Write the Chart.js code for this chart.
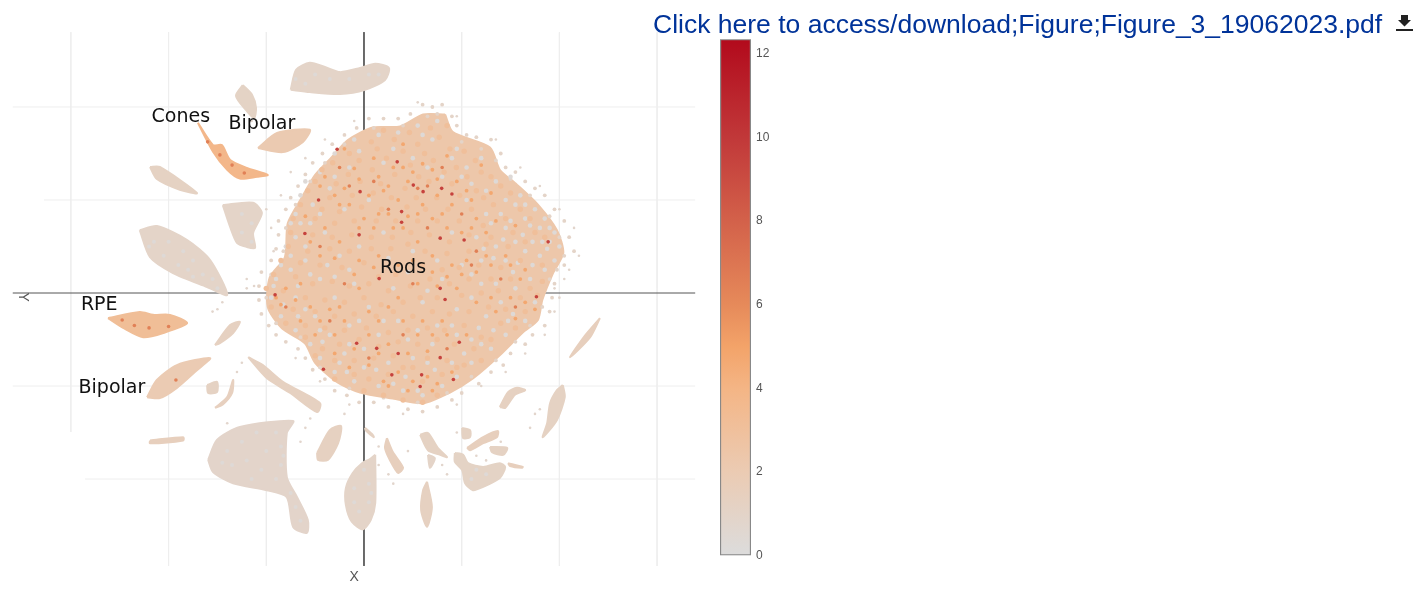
<!DOCTYPE html>
<html>
<head>
<meta charset="utf-8">
<title>Figure 3</title>
<script src="https://cdn.jsdelivr.net/npm/chart.js@4"></script>
<style>
  html, body { margin: 0; padding: 0; background: #fff; }
  #page { position: relative; width: 1421px; height: 590px; overflow: hidden; }
  #umap { position: absolute; left: 0; top: 0; }
  #bar { position: absolute; left: 712px; top: 27px; }
  #link { position: absolute; left: 653px; top: 9px; font: 26.500px "Liberation Sans", Arial, sans-serif; color: #003399; white-space: nowrap; }
  #icon { position: absolute; left: 1396px; top: 15px; }
</style>
</head>
<body>
<div id="page">
  <canvas id="umap" width="712" height="590"></canvas>
  <canvas id="bar" width="70" height="543"></canvas>
  <div id="link">Click here to access/download;Figure;Figure_3_19062023.pdf</div>
  <svg id="icon" width="17" height="17" viewBox="0 0 17 17"><path d="M5 0h7v5h3l-6.500 6.500L2 5h3zM0 14h17v2H0z" fill="#222"/></svg>
</div>
<script>
// colour scale
var scaleValues = [0, 2, 4, 5, 6, 8, 10, 12.35];
var scaleColors = ['#dcdcdc', '#ebcbb3', '#f4b585', '#f3a369', '#e68a5a', '#d3614a', '#c13839', '#b20a1c'];
var barTicks = [0, 2, 4, 6, 8, 10, 12];

// cell labels
var labelTexts = ['Cones', 'Bipolar', 'Rods', 'RPE', 'Bipolar'];
var labelX = [-37.5, -20.9, 8, -54.2, -51.6];
var labelY = [37.9, 36.4, 5.4, -2.6, -20.4];

// faint grid lines of the 3D scene, [fixed value, from, to]
var gridVertical = [[-60, 56.1, -29.9], [-40, 56.1, -58.7], [-20, 56.1, -58.7], [20, 56.1, -58.7], [40, 56.1, -58.7], [60, 56.1, -58.7]];
var gridHorizontal = [[40, -71.9, 67.8], [20, -65.5, 67.8], [-20, -71.9, 67.8], [-40, -57.1, 67.8]];

// cluster outlines
var rods = [[16.6,38.4],[18.2,34.6],[25.8,31.3],[27.8,26.5],[31.3,23.3],[35.6,19],[39.5,13.5],[40.8,8.6],[38.7,4.3],[36.5,-1.5],[35.6,-5.8],[32.5,-8.5],[27.8,-13.4],[22.3,-18.4],[17.6,-21.4],[12.1,-23.7],[5.9,-22.7],[-0.8,-21.4],[-5.5,-19.2],[-10,-15],[-12.1,-10.8],[-16.8,-7.6],[-19.7,-3],[-19.3,3.3],[-16.2,7.7],[-15.6,15],[-12.7,20.6],[-10,25.4],[-6.6,29.2],[-3.3,32.9],[1.8,35.6],[7.4,35.8],[12.1,38.4]];
var topArc = [[-15,43.7],[-13.9,48],[-11.1,49.5],[-8,48.6],[-4.9,47.5],[-0.8,48.4],[2.3,49.3],[5.1,48.4],[4.3,45.8],[0.2,43.7],[-4.9,42.8],[-11.1,43.2]];
var topSmall = [[-24.8,44.7],[-22.9,42.6],[-22.1,39.8],[-22.5,37.6],[-24.2,39.4],[-26.2,42.4]];
var bipolarUpper = [[-21.7,31.2],[-17.8,34.4],[-11.1,35.1],[-12.5,32.5],[-16.6,30.3]];
var cones = [[-34,36.6],[-30.9,31.8],[-29.1,31.8],[-27.4,28.6],[-24,26.9],[-19.7,25.4],[-21.9,25],[-25.4,24.6],[-28,26.5],[-30.9,30.4]];
var streakLeft = [[-43.8,27.1],[-41.8,27.1],[-34.2,21.5],[-37.7,22.2],[-42.4,24.5]];
var patch = [[-28.9,18.9],[-22.7,19.4],[-20.9,17.2],[-22.7,12.9],[-22.3,9.7],[-24,9.9],[-26,10.8],[-27.4,14.2]];
var leafLeft = [[-45.9,13.5],[-42.4,14.4],[-36.2,11.4],[-31.5,7.1],[-28,-0.4],[-32.1,1.3],[-39.1,4.3],[-43.8,7.7]];
var rpe = [[-52.4,-5.4],[-45.9,-4.1],[-43.2,-4.7],[-39.7,-4.7],[-36.2,-6.5],[-41.1,-8.6],[-45.2,-9.5],[-49.3,-7.5]];
var bipolarLower = [[-44.4,-22.4],[-42.4,-18.7],[-38.3,-15.5],[-31.5,-14],[-34.2,-16.6],[-38.3,-20.4],[-41.8,-22.6]];
var smallMid = [[-30.5,-11.2],[-27.4,-6.9],[-25.4,-6.2],[-26.8,-8.6],[-29.5,-10.8]];
var crescent = [[-30.5,-24.7],[-28,-22.4],[-26.8,-18.7],[-27,-21.5],[-28.9,-24]];
var blobSmall = [[-32.1,-19.8],[-30.1,-19.1],[-30.1,-21.3],[-31.9,-21.5]];
var diagonal = [[-23.7,-13.8],[-20.7,-15.5],[-16.6,-19.1],[-9,-23.7],[-9.6,-25.6],[-15.1,-21.5],[-19.9,-18.3]];
var bigLower = [[-31.9,-35.9],[-30.1,-31.6],[-25.4,-28.8],[-14.5,-27.5],[-15.8,-30.1],[-15.8,-39.6],[-13.7,-43.9],[-11.5,-48.8],[-11.7,-51.6],[-14.5,-50.3],[-15.8,-43.9],[-19.9,-42.4],[-26.8,-40.9],[-30.9,-38.5]];
var thinStreak = [[-43.8,-31.7],[-37,-31],[-37,-31.7],[-43.8,-32.3]];
var blobBelow = [[-9.6,-34.4],[-7,-29.5],[-4.7,-28.6],[-5.3,-32.3],[-7.4,-35.9],[-9.4,-35.9]];
var leafCentre = [[2.3,-34.8],[2.3,-45.2],[1.4,-48.8],[-0.2,-50.8],[-2.5,-49.2],[-3.7,-45.6],[-3.7,-41.9],[-2.3,-38.7],[-0.4,-36.6],[1.2,-35.7]];
var smallRight = [[4.7,-31.2],[5.9,-34.2],[8,-37.6],[7,-38.7],[5.3,-35.9],[4.3,-33.3]];
var tick = [[0.2,-29],[1.8,-30.5],[2,-31],[0.4,-29.6]];
var leafBottom = [[12.9,-40.6],[13.9,-46],[12.9,-50.3],[11.7,-46.7],[12.1,-42.4]];
var wedge = [[11.5,-30.5],[13.1,-30.1],[15.1,-33.3],[17,-35.3],[15.6,-34.8],[13.1,-33.8]];
var wedgeLow = [[13.1,-34.8],[14.5,-35.5],[13.5,-37.6]];
var rightBody = [[18.6,-34.4],[20.3,-34.8],[21.3,-36.6],[24.4,-37.4],[27.8,-36.6],[28.9,-37.4],[27.8,-39.8],[24.4,-41.7],[22.3,-42.4],[20.7,-40.9],[20.1,-38.1],[18.6,-36.3]];
var rightArc = [[21.1,-33.3],[24.4,-31],[27.4,-29.7],[27.2,-31],[24.4,-32.3],[21.7,-33.8]];
var rightSmall = [[20.1,-29],[21.7,-29.5],[21.7,-31],[20.3,-31.2]];
var rightMid = [[25.8,-33.1],[29.3,-33.3],[28.5,-34.8],[26.2,-34.2]];
var rightTail = [[29.5,-36.6],[32.5,-37.4],[32.3,-37.6],[29.9,-37.2]];
var upperRight = [[27.8,-24.5],[29.5,-21.3],[31.3,-20.4],[33,-20.9],[30.9,-21.9],[28.9,-24.7]];
var leafRight = [[40.7,-19.8],[41.1,-22.4],[39.5,-27.3],[36.6,-31],[37.5,-28],[38.1,-23.7],[39.5,-20.9]];
var sliver = [[48.3,-5.4],[46.3,-9.5],[42.2,-13.8],[45.2,-9.2]];

// mean level of each cluster, same order as clusterShapes below
var clusterShapes = [rods, topArc, topSmall, bipolarUpper, cones, streakLeft, patch, leafLeft, rpe, bipolarLower, smallMid, crescent, blobSmall, diagonal, bigLower, thinStreak, blobBelow, leafCentre, smallRight, tick, leafBottom, wedge, wedgeLow, rightBody, rightArc, rightSmall, rightMid, rightTail, upperRight, leafRight, sliver];
var clusterLevels = [2.4, 1, 1.1, 2.1, 3.8, 1.2, 1, 1, 3.2, 2, 1.3, 1.4, 1.2, 1.3, 0.9, 1.5, 1.3, 1, 1.5, 1.2, 1.3, 1.2, 1, 1.1, 1.5, 1.2, 1.2, 1.5, 1.3, 1.2, 1.5];

// single cells
var cellsGrey = [[3,34],[11,36],[15,37],[19,31],[24,29],[-6,30],[-9,26],[-13,21],[-15,15],[-14,17],[-16,10],[-12,24],[-3,27],[6,31],[14,33],[21,27],[27,24],[32,21],[35,18],[37,16],[39,13],[40,10],[38,11],[36,14],[33,16],[31,19],[29,14],[28,17],[27,10],[29,7],[33,9],[36,8],[39,7],[37,5],[34,3],[31,1],[35,-2],[33,-6],[29,-9],[26,-12],[22,-15],[19,-18],[16,-20],[12,-22],[8,-21],[3,-20],[-2,-19],[-6,-17],[-9,-14],[-11,-11],[-14,-8],[-17,-5],[-19,-1],[-18,3],[-15,5],[-12,7],[-9,3],[-6,-1],[-10,-5],[-7,-9],[-3,-7],[0,-12],[-4,-13],[3,-9],[7,-6],[11,-8],[5,-15],[10,-14],[14,-11],[18,-7],[22,-10],[25,-5],[28,-2],[22,-1],[16,3],[12,-2],[6,1],[1,-3],[-2,2],[-5,8],[-1,10],[4,13],[-8,13],[-11,15],[-4,18],[1,20],[10,9],[15,7],[20,6],[24,2],[18,13],[23,12],[25,17],[21,20],[16,25],[10,29],[26.5,7.5],[24.5,9.5],[30.5,4.5],[32.5,12.5],[34.5,11],[37.5,9.5],[30.5,-4.5],[26.5,-8],[20.5,-13],[14.5,-16.5],[8.5,-18],[2.5,-16.5],[-3.5,-17],[-8.5,-10.5],[-13.5,-5],[-16.5,-2.5],[-13.5,1.5],[-7.5,6],[-3,5],[5,7.5],[9,4.5],[13,0.5],[19,-3.5],[23.5,-7.5],[-1,30.5],[4,28],[13,27],[18,29],[22,23.5],[-7,22.5],[-10.5,19],[-14,12],[-12,10],
  [30,15.5],[31,11],[34,14.5],[36.5,11],[28.5,11.5],[26,15],[24,7],[22,4],[34.5,6],[31.5,6.5],[27,2],[29.5,-6],[24,-11],[18,-15],[11,-21],[6,-19.5],[0,-16],[-5,-15],[-9,-8],[-14,-1],[-11,4],[-6,3.5],[-1,-6],[4,-6],[9,-10],[15,-7],[19,-9],[13,-15],[-3,-11],[-12,-3.5],[-18.5,1.5],[-17,6],[-15,8],[-13,15],[-9,17],[-6,25],[-2,33],[7,34.5],[12,34],[20,25],[25,22],[30,25],[33,19],[29,20],[38,14]];
var cellsPeach = [[4,35],[9.3,34.5],[13.6,35.5],[17,36],[1.5,32.5],[6.2,33],[11,32],[15.4,33.5],[20.5,30.5],[-3,30],[2.7,31],[8,30.5],[12.4,30],[17.6,31],[22.8,28.5],[-6.4,28],[-1,28.5],[4.6,29],[9.5,27.5],[14.2,28.5],[18.9,27],[24,26],[-8.6,26.5],[-3.2,25.5],[1.7,26.5],[6.3,25.5],[11.2,25],[16.4,26],[21.1,25],[26,25],[-10,24],[-5.7,23.5],[-0.8,24],[3.4,23.5],[8.4,22.5],[13.3,24],[18,23.5],[23,22],[28,23],[-11.5,22],[-7,20.5],[-2.4,21],[1.9,21.5],[5.6,20.5],[10.7,20.5],[14.9,20.5],[19.6,21],[24.5,20.5],[30,21.5],[-13,19],[-8.6,18],[-5,17.5],[-0.5,18.5],[3.6,18],[8.8,18.5],[12.6,18],[17.2,18],[22,18],[26.5,19],[32,18],[-14.5,16],[-10,16],[-6,15],[-2,15.5],[2.5,15.5],[6.5,15.5],[11,15.5],[15,15.5],[19.5,15.5],[24.4,14.5],[29,16],[34,16],[-15,13],[-10.5,12.5],[-6.5,12],[-2.5,12.5],[1.5,12],[5.8,12],[9.6,13],[13.4,12.5],[17.5,11],[21.5,12.5],[26,12],[30.5,13],[35,13],[-15.5,10],[-11.5,9],[-7,9.5],[-3,9],[1.5,9.5],[5.5,9.5],[9,10.5],[12.5,9],[17,8.5],[21.5,9],[25,10.5],[29.5,10],[33,11],[37,12],[-17,7],[-13,6.5],[-9,6],[-4.5,5.5],[0,6.5],[3,3.5],[6.5,4],[12,6],[16,5],[19.5,5.5],[23.5,6],[28,5.5],[32,7],[36.5,6],[-18.5,4],[-14,3.5],[-10.5,2],[-6.5,2.5],[-3,1.5],[1,2],[5,0.5],[9.5,1.5],[13.5,3],[17.5,2],[21.5,3],[26,3],[30,3],[34,1],[36.5,2.5],[-20,1],[-16.5,0.5],[-12,-1],[-8,-1.5],[-4,-2],[0,-1],[3.5,-2.5],[8,-2],[11.5,-1],[15,-1],[20,-0.5],[24,0],[27.5,0.5],[32,-1],[35.5,-0.5],[-19,-3],[-14.5,-3.5],[-10,-4],[-6,-5],[-2,-4.5],[2.5,-5],[6,-4],[10,-5],[14,-4],[17.5,-4.5],[21.5,-4],[25.5,-3],[29,-3.5],[33,-4],[-16,-6.5],[-12,-7],[-8,-7.5],[-4,-8],[0.5,-7.5],[5,-8.5],[9,-8],[13,-7.5],[16.5,-8],[20.5,-7],[24,-9.5],[28,-6.5],[31,-7.5],[-12,-9.5],[-8.5,-12],[-5,-11],[-1,-10],[3,-11.5],[7,-10.5],[11,-11],[15,-10],[18.5,-11],[22.5,-12],[26,-10],[-10,-13.5],[-6,-14.5],[-2,-14.5],[2,-14],[6,-13.5],[10,-16],[13,-14],[17,-14.5],[20.5,-15.5],[24,-14.5],[-6,-18.5],[-2,-17.5],[1,-18.5],[5,-17.5],[8,-16],[12,-19],[16,-17.5],[19,-16],[0,-21],[4,-22],[8,-23],[12,-23.5],[15,-22]];
var cellsOrange = [[-1,24.5],[1,21],[4,22],[7,20],[9,24],[12,19],[15,21],[18,19],[21,22],[-3,19],[-6,21],[-9,23],[0,16],[3,17],[6,14],[9,16.5],[14,16],[17,14],[22,14],[25,13],[-8,14],[-11,11],[-5,11],[-1,7],[3,8],[11,11],[14,8],[18,6],[14,4.5],[17,3.5],[20,4],[23,4.5],[26,6],[29,8],[32,3],[33,-2],[35,-3.5],[30,-1],[27,-4],[-16,1],[-18,-1],[-14,-1.5],[-11,-3],[-7,-3.5],[-13,-6],[-4,-6],[1,-4],[5,-3],[8,-6],[12,-6],[16,-6],[-6,-13],[3,-13],[9,-13],[13,-12.5],[7,-17],[10,-19],[13,-18],[15,-19.5],[18,-17],[4,-19],[24,27.5],[10,26],[14,26.5],[2,29],[6,27],[-4,31],[8,32],[17,29.5],
  [-12,16.5],[-8,25],[-4,22.5],[-2,26.8],[3,25],[5,23],[8,27],[12,27.8],[15,24.5],[19,24],[22,20],[26,21.5],[-5,19],[-1,14],[2,14],[5,17],[8,14],[11,17],[16,17],[20,13],[23,16],[27,15.5],[31,14.5],[-9,8],[-6,7.5],[-2,4],[2,5.5],[7,6],[10,7],[21,7],[25,8],[30,6],[33,5],[-17,-2.5],[-13,2],[-9,-6],[-5,-3],[-1,1],[3,-6],[7,-1],[11,2],[15,1.5],[19,1],[23,-2],[26,-1],[31,-5.5],[-10,-9],[-6,-9],[-2,-12],[1,-9],[5,-11],[11,-9],[14,-9],[17,-9],[21,-9],[-3,-16],[1,-15.5],[5,-20],[9,-21],[14,-21]];
var cellsWarm = [[-32,32.5],[-29.5,29.7],[-27,27.5],[-24.5,25.8],[-47,-7],[-44,-7.5],[-40,-7.2],[-49.5,-5.8],[-38.5,-18.7],[-5,27],[2,24],[11,22.5],[13,23],[5,18],[-3,23],[20,17],[23,9],[-9,10],[-4,2],[8,-9],[17,-12],[-16,-3],[28,3],[31,-3],[13,14],[1,-14],[-7,-6],[22,6],[10,2],[16,27]];
var cellsHot = [[12.1,21.8],[15.9,22.5],[-0.8,21.8],[-9.3,20],[-12.1,12.8],[-1,12.5],[-18.2,-0.4],[3.1,3.1],[16.6,-1.4],[37.7,11],[7.7,17.5],[-8.3,-16.4],[18.3,-18.6],[15.6,-13.9],[19.5,-10.6],[11.8,-17.6],[5.7,-17.6],[6.8,28.2],[-5.5,30.9],[10.1,23.2],[18,21.3],[7.7,15.2],[2.6,-11.9],[11.5,-20.1],[15.6,1],[35.3,-0.8],[20.5,11.4],[15.6,11.8],[-1.5,-10.8],[7,-13]];
// grey patches inside the quieter clusters
var cellsPale = [[-43,11],[-40,11],[-37,9],[-41,8],[-38,6],[-35,7],[-33,4],[-35,3.5],[-31,3],[-30,1],[-44,10],[-36,5],[-28,-34],[-25,-32],[-22,-30],[-18,-30],[-17,-33],[-20,-34],[-24,-36],[-27,-37],[-21,-38],[-17,-37],[-18,-40],[-23,-40],[-16.5,-35],[-29,-36.5],[-15,-43],[-14,-46],[-13,-49],[0,-38],[1,-41],[-2,-42],[1,-45],[-1,-47],[-2,-45],[1.5,-43],[-25,17],[-23,15],[-25,13],[-23,11],[-10,47],[-7,46],[-3,46],[1,47],[-12,45],[3,47],[-14,46],[22,-40],[25,-39],[23,-38]];
// rough edge of the rod cloud
var rodsEdge = [[14,40],[16,40.5],[18,38],[19,36],[21,34],[23,33.5],[26,33],[28,30],[29,27],[31,26],[33,24],[35,22.5],[37,21],[39,18],[41,15.5],[42,12],[43,9],[41,6],[39.5,5],[39,2],[38.5,-1],[38,-4],[37,-7],[34.5,-9],[33,-11],[30,-13],[28.5,-15.5],[26,-17],[23.5,-19.5],[20,-21.5],[18,-23],[15,-24.5],[12,-25.5],[9,-25],[5,-24.5],[2,-23.5],[-1,-23.5],[-3.5,-22],[-6,-21],[-8,-18.5],[-10.5,-16.5],[-12,-14],[-13.5,-12],[-16,-10.5],[-18,-9],[-19.5,-7],[-21,-4.5],[-21.5,-1.5],[-21.5,1.5],[-21,4.5],[-19,7],[-18,9.5],[-17.5,12.5],[-17.5,15.5],[-16,18],[-15,20.5],[-13.5,23],[-12,25.5],[-10.5,28],[-8.5,30],[-6.5,32],[-4,34],[-1.5,35.5],[1,37.5],[4,37.5],[7,37.5],[9.5,38.5],[12,40.5],
  [15,38.5],[20,32.5],[24,31],[27,28.5],[30,24.5],[34,21],[38,16.5],[40,12],[41,8],[38,3],[36.5,-3],[34,-7],[31,-10.5],[27,-14.5],[22,-18],[17,-21.5],[11,-23.5],[4,-22.5],[-3,-20.5],[-9,-16],[-13,-9.5],[-18,-6.5],[-20,-1],[-19,4],[-16.5,9],[-16,14],[-14,19],[-11,24],[-8,28],[-4,32],[2,35.5],[8,36],[13,38]];
var cellLevels = [0.3, 3.1, 4.8, 6.5, 9.5];
var cellRadii = [2.3, 2.7, 1.9, 1.8, 1.8];

// outliers sitting around the clusters
var strays = [[-29,-2],[-31,-4],[-30,-3.5],[-24,3],[-22.5,1.5],[-24,1],[-18.5,9],[-19,14],[-20,18],[-17,21],[-15,26],[-12,29],[-8,33],[-2,37],[11,41],[19,38],[27,33],[32,27],[36,23],[40,18],[43,14],[44,8],[42,5],[41,3],[39,1],[40,-1],[39,-4],[37,-9],[33,-13],[29,-17],[24,-20],[19,-24],[8,-26],[-3,-24],[-9,-19],[-14,-14],[-25,-15],[-26,-17],[-11,-27],[-12,-29],[-13,-32],[-4,-26],[3,-33],[3,-37],[6,-41],[5,-39],[16,-37],[9,-34],[17,-39],[19,-30],[23,-35],[25,-36],[28,-32],[35,-26],[34,-29],[36,-25],[-23,37],[-28,-28],[-15,37]];

function dataPoints(list) {
  return list.map(function(p) { return { x: p[0], y: p[1] }; });
}

// colour for a value, between the two nearest stops of the scale
function colorFor(value) {
  var i = 0;
  while (i < scaleValues.length - 2 && value > scaleValues[i + 1]) i++;
  var t = (value - scaleValues[i]) / (scaleValues[i + 1] - scaleValues[i]);
  var a = parseInt(scaleColors[i].slice(1), 16);
  var b = parseInt(scaleColors[i + 1].slice(1), 16);
  var r = Math.round((a >> 16) * (1 - t) + (b >> 16) * t);
  var g = Math.round(((a >> 8) & 255) * (1 - t) + ((b >> 8) & 255) * t);
  var bl = Math.round((a & 255) * (1 - t) + (b & 255) * t);
  return 'rgb(' + r + ',' + g + ',' + bl + ')';
}

function lineSet(points, color, width, order) {
  return { data: points, showLine: true, borderColor: color, borderWidth: width, pointRadius: 0, order: order };
}

var datasets = [];
gridVertical.forEach(function(g) {
  datasets.push(lineSet([{ x: g[0], y: g[1] }, { x: g[0], y: g[2] }], '#eeeeee', 1, 10));
});
gridHorizontal.forEach(function(g) {
  datasets.push(lineSet([{ x: g[1], y: g[0] }, { x: g[2], y: g[0] }], '#eeeeee', 1, 10));
});
// axis lines
datasets.push(lineSet([{ x: 0, y: 56.1 }, { x: 0, y: -58.7 }], '#555555', 1, 9));
datasets.push(lineSet([{ x: -71.9, y: 0 }, { x: 67.8, y: 0 }], '#555555', 1, 9));

clusterShapes.forEach(function(shape, i) {
  var closed = shape.concat([shape[0]]);
  datasets.push({
    data: dataPoints(closed),
    showLine: true,
    fill: 'shape',
    tension: 0.25,
    backgroundColor: colorFor(clusterLevels[i]),
    borderColor: colorFor(clusterLevels[i]),
    borderWidth: 2,
    pointRadius: 0,
    order: 8
  });
});

[cellsGrey, cellsPeach, cellsOrange, cellsWarm, cellsHot].forEach(function(cells, i) {
  datasets.push({
    data: dataPoints(cells),
    showLine: false,
    backgroundColor: colorFor(cellLevels[i]),
    pointRadius: cellRadii[i],
    pointBorderWidth: 0,
    order: 5 - i
  });
});
datasets.push({ data: dataPoints(cellsPale), showLine: false, backgroundColor: colorFor(0.3), pointRadius: 2, pointBorderWidth: 0, order: 6 });
datasets.push({ data: dataPoints(rodsEdge), showLine: false, backgroundColor: colorFor(1), pointRadius: 1.9, pointBorderWidth: 0, order: 7 });
datasets.push({ data: dataPoints(strays), showLine: false, backgroundColor: colorFor(0.8), pointRadius: 1.3, pointBorderWidth: 0, order: 7 });

// cell labels and the two axis letters
var textPlugin = {
  id: 'textPlugin',
  afterDatasetsDraw: function(chart) {
    var c = chart.ctx, sx = chart.scales.x, sy = chart.scales.y;
    c.save();
    c.textAlign = 'center';
    c.textBaseline = 'middle';
    c.fillStyle = '#111111';
    c.font = '19px "DejaVu Sans"';
    labelTexts.forEach(function(t, i) {
      c.fillText(t, sx.getPixelForValue(labelX[i]), sy.getPixelForValue(labelY[i]));
    });
    c.fillStyle = '#555555';
    c.font = '14px "Liberation Sans"';
    c.fillText('X', sx.getPixelForValue(-2), sy.getPixelForValue(-61));
    c.translate(sx.getPixelForValue(-69.8), sy.getPixelForValue(-0.9));
    c.rotate(Math.PI / 2);
    c.fillText('Y', 0, 0);
    c.restore();
  }
};

new Chart(document.getElementById('umap').getContext('2d'), {
  type: 'scatter',
  data: { datasets: datasets },
  plugins: [textPlugin],
  options: {
    responsive: false,
    animation: false,
    layout: { padding: 0, autoPadding: false },
    plugins: { legend: { display: false }, tooltip: { enabled: false } },
    scales: {
      x: { type: 'linear', display: false, min: -74.51, max: 71.24 },
      y: { type: 'linear', display: false, min: -63.87, max: 63.01 }
    }
  }
});

// colour bar
new Chart(document.getElementById('bar').getContext('2d'), {
  type: 'bar',
  data: {
    labels: ['value'],
    datasets: [{
      data: [[0, 12.35]],
      barPercentage: 1,
      categoryPercentage: 1,
      borderColor: '#888888',
      borderWidth: 1.5,
      borderSkipped: false,
      backgroundColor: function(ctx) {
        var area = ctx.chart.chartArea;
        if (!area) return scaleColors[0];
        var g = ctx.chart.ctx.createLinearGradient(0, area.bottom, 0, area.top);
        scaleValues.forEach(function(v, i) { g.addColorStop(v / 12.35, scaleColors[i]); });
        return g;
      }
    }]
  },
  options: {
    responsive: false,
    animation: false,
    layout: { padding: { left: 8, top: 7, bottom: 14.5, right: 0 }, autoPadding: false },
    plugins: { legend: { display: false }, tooltip: { enabled: false } },
    scales: {
      x: { display: false },
      y: {
        position: 'right',
        min: 0,
        max: 12.35,
        afterFit: function(s) { s.width = 31; },
        afterBuildTicks: function(s) { s.ticks = barTicks.map(function(v) { return { value: v }; }); },
        grid: { display: false, drawTicks: false },
        border: { display: false },
        ticks: { padding: 5, color: '#555555', font: { family: '"Liberation Sans"', size: 12 } }
      }
    }
  }
});
</script>
</body>
</html>
